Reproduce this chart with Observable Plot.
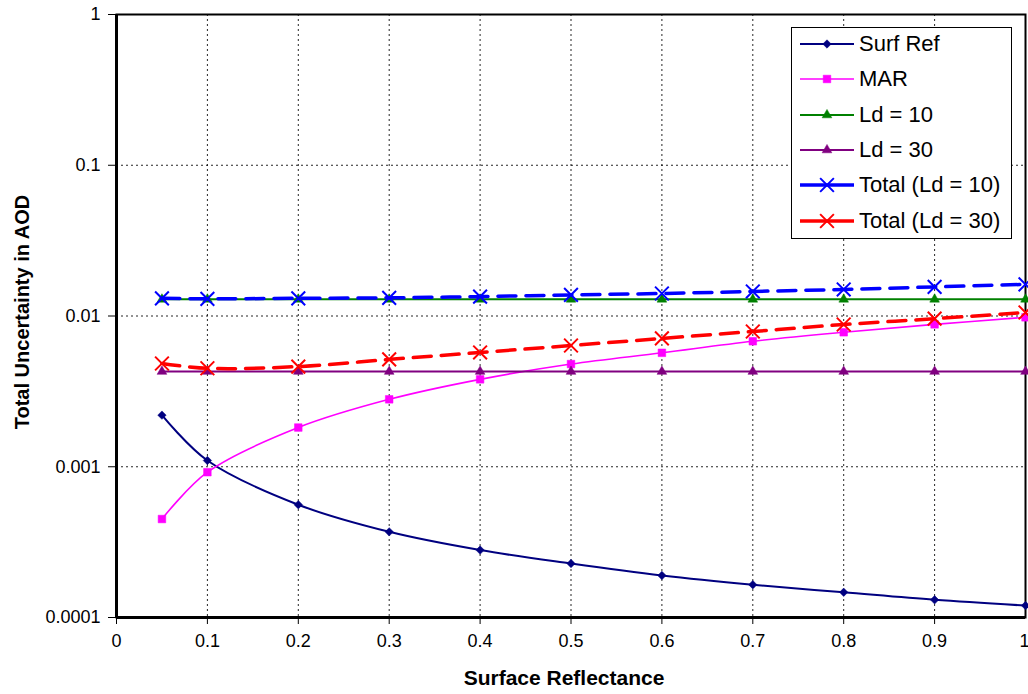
<!DOCTYPE html>
<html><head><meta charset="utf-8">
<script src="https://cdn.jsdelivr.net/npm/d3@7"></script>
<script src="https://cdn.jsdelivr.net/npm/@observablehq/plot@0.6"></script>
<style>
body{margin:0;background:#fff;}
#wrap{position:relative;width:1028px;height:694px;font-family:"Liberation Sans",Arial,sans-serif;}
#legend{position:absolute;left:791px;top:27px;width:219px;height:210px;border:1px solid #000;background:#fff;}
.row{position:absolute;left:0;height:30px;display:flex;align-items:center;font-size:22px;color:#000;white-space:nowrap;}
.row svg{margin-left:8px;margin-right:5px;}
</style></head><body><div id="wrap"></div>
<script>
// ---- data ----
const reflectance = [0.05, 0.1, 0.2, 0.3, 0.4, 0.5, 0.6, 0.7, 0.8, 0.9, 1.0];
const surfRef = [0.0022, 0.0011, 0.00056, 0.00037, 0.00028, 0.000228, 0.00019, 0.000165, 0.000147, 0.000131, 0.00012];
const mar = [0.00045, 0.00092, 0.00182, 0.0028, 0.0038, 0.0048, 0.0057, 0.0068, 0.0078, 0.0088, 0.0098];
const ld10 = [0.0129, 0.0129, 0.0129, 0.0129, 0.0129, 0.0129, 0.0129, 0.0129, 0.0129, 0.0129, 0.0129];
const ld30 = [0.00428, 0.00428, 0.00428, 0.00428, 0.00428, 0.00428, 0.00428, 0.00428, 0.00428, 0.00428, 0.00428];
const total10 = [0.0131, 0.0130, 0.0131, 0.0132, 0.01345, 0.0138, 0.0141, 0.01455, 0.0150, 0.0156, 0.0162];
const total30 = [0.00484, 0.00450, 0.00462, 0.00515, 0.00573, 0.00637, 0.0071, 0.00789, 0.00878, 0.0096, 0.01055];
const seriesNames = ["Surf Ref", "MAR", "Ld = 10", "Ld = 30", "Total (Ld = 10)", "Total (Ld = 30)"];
const xTicks = [0, 0.1, 0.2, 0.3, 0.4, 0.5, 0.6, 0.7, 0.8, 0.9, 1];
const xTickLabels = ["0", "0.1", "0.2", "0.3", "0.4", "0.5", "0.6", "0.7", "0.8", "0.9", "1"];
const yTicks = [0.0001, 0.001, 0.01, 0.1, 1];
const yTickLabels = ["0.0001", "0.001", "0.01", "0.1", "1"];
const xTitle = "Surface Reflectance";
const yTitle = "Total Uncertainty in AOD";

// ---- styles ----
const seriesValues = [surfRef, mar, ld10, ld30, total10, total30];
const styles = [
  {color:"#000080", symbol:"diamond2", r:3.8, fill:true, width:2, dash:null, curve:"catmull-rom"},
  {color:"#FF00FF", symbol:"square", r:4.3, fill:true, width:1.6, dash:null, curve:"catmull-rom"},
  {color:"#008000", symbol:"triangle", r:3.6, fill:true, width:2, dash:null, curve:"linear"},
  {color:"#800080", symbol:"triangle", r:3.6, fill:true, width:2, dash:null, curve:"linear"},
  {color:"#0000FF", symbol:"times", r:6.3, fill:false, width:3.5, dash:"18,10", curve:"catmull-rom"},
  {color:"#FF0000", symbol:"times", r:6.3, fill:false, width:3.5, dash:"18,10", curve:"catmull-rom"}
];

const xLab = new Map(xTicks.map((t,i)=>[t, xTickLabels[i]]));
const yLab = new Map(yTicks.map((t,i)=>[t, yTickLabels[i]]));

const seriesMarks = [];
seriesNames.forEach((name, k) => {
  const st = styles[k];
  const rows = reflectance.map((x,i)=>({x, y: seriesValues[k][i], series: name}));
  seriesMarks.push(Plot.line(rows, {x:"x", y:"y", stroke: st.color, strokeWidth: st.width,
    strokeDasharray: st.dash || undefined, curve: st.curve}));
  seriesMarks.push(Plot.dot(rows, {x:"x", y:"y", symbol: st.symbol, r: st.r,
    fill: st.fill ? st.color : "none", stroke: st.color, strokeWidth: st.fill ? 0.5 : 2}));
});

const axisXOpts = {tickSize:7, tickPadding:10, fontSize:18, tickFormat:d=>xLab.get(d), label:null};
const chart = Plot.plot({
  width:1028, height:694,
  marginLeft:116, marginRight:3, marginTop:14, marginBottom:77,
  style:{fontFamily:"'Liberation Sans', Arial, sans-serif", background:"#fff", color:"#000"},
  x:{domain:[0,1]},
  y:{type:"log", domain:[0.0001,1]},
  marks:[
    Plot.gridX(xTicks.slice(1,-1), {stroke:"#000", strokeOpacity:0.85, strokeDasharray:"2,3", strokeWidth:1}),
    Plot.gridY(yTicks.slice(1,-1), {stroke:"#000", strokeOpacity:0.85, strokeDasharray:"2,3", strokeWidth:1}),
    Plot.axisX(xTicks.slice(0,-1), axisXOpts),
    Plot.axisX(xTicks.slice(-1), {...axisXOpts, textAnchor:"end", dx:4}),
    Plot.axisY(yTicks, {tickSize:8, tickPadding:8, fontSize:18, tickFormat:d=>yLab.get(d), label:null}),
    Plot.frame({stroke:"#000", strokeWidth:2}),
    Plot.ruleX([0], {stroke:"#000", strokeWidth:3}),
    Plot.ruleY([0.0001], {stroke:"#000", strokeWidth:3}),
    ...seriesMarks,
    Plot.text([xTitle], {frameAnchor:"bottom", dx:-7, dy:61, fontSize:21, fontWeight:"bold", textAnchor:"middle", lineAnchor:"middle", fill:"#000"}),
    Plot.text([yTitle], {frameAnchor:"left", dx:-94, dy:-4, rotate:-90, fontSize:20, fontWeight:"bold", textAnchor:"middle", lineAnchor:"middle", fill:"#000"})
  ]
});
const wrap = document.getElementById("wrap");
wrap.appendChild(chart);

// ---- legend ----
const legend = document.createElement("div");
legend.id = "legend";
seriesNames.forEach((name, k) => {
  const st = styles[k];
  const row = document.createElement("div");
  row.className = "row";
  row.style.top = (16 + k*35.3 - 15) + "px";
  const svg = d3.create("svg").attr("width", 54).attr("height", 30);
  svg.append("line").attr("x1",0).attr("x2",54).attr("y1",15).attr("y2",15)
    .attr("stroke", st.color).attr("stroke-width", st.width);
  const symMap = {diamond2:d3.symbolDiamond2, square:d3.symbolSquare, triangle:d3.symbolTriangle, times:d3.symbolTimes};
  svg.append("path").attr("transform","translate(27,15)")
    .attr("d", d3.symbol(symMap[st.symbol], Math.PI*st.r*st.r)())
    .attr("fill", st.fill ? st.color : "none").attr("stroke", st.color)
    .attr("stroke-width", st.fill ? 0.5 : 2);
  row.appendChild(svg.node());
  const span = document.createElement("span");
  span.textContent = name;
  row.appendChild(span);
  legend.appendChild(row);
});
wrap.appendChild(legend);
</script>
</body></html>
